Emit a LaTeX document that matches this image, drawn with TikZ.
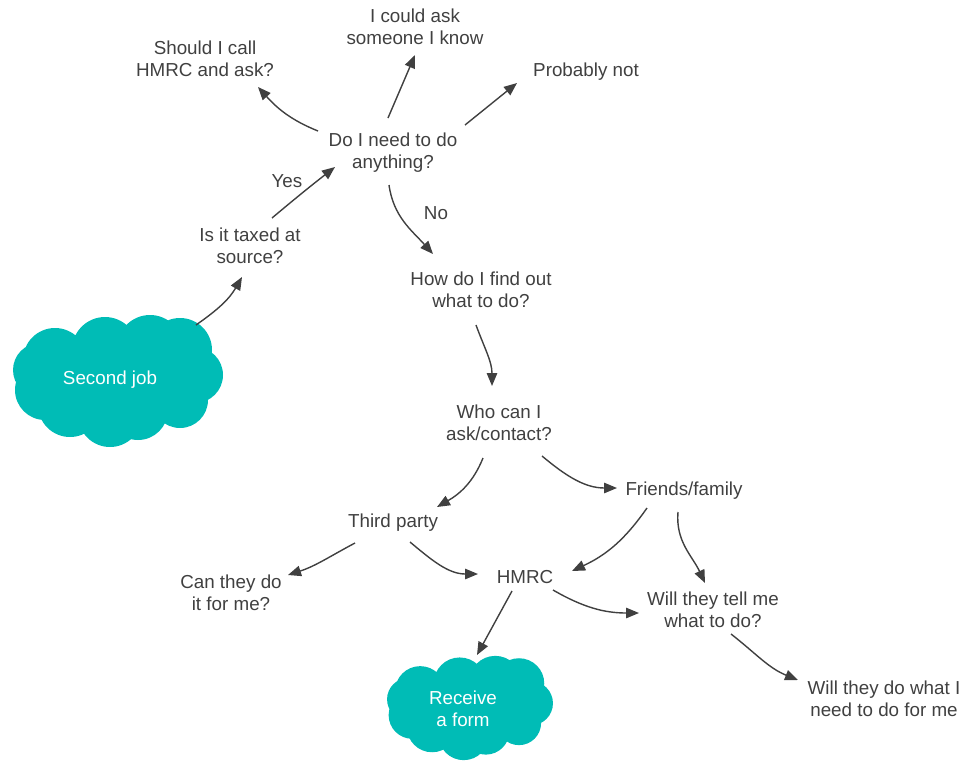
\documentclass[tikz,border=0pt]{standalone}
\usepackage{fontspec}
\setmainfont{Liberation Sans}
\usetikzlibrary{arrows.meta}
\definecolor{ink}{HTML}{404040}
\definecolor{teal}{HTML}{00BCB6}
\begin{document}
\begin{tikzpicture}[x=1pt,y=-1pt,
  txt/.style={font=\fontsize{18.8}{22}\selectfont, text=ink, align=center, inner sep=8pt},
  cloudtxt/.style={font=\fontsize{18.8}{22}\selectfont, text=white, align=center},
  arr/.style={draw=ink, line width=1.4pt, -{Triangle[length=13pt,width=10.5pt]}},
  cloudpic/.pic={
    \fill[teal] (-63,-21) circle[radius=32] (-13,-31) circle[radius=33]
      (32,-33) circle[radius=33] (62,-31) circle[radius=32]
      (77,-6) circle[radius=28] (62,19) circle[radius=28]
      (20,29) circle[radius=30] (-8,34) circle[radius=32]
      (-48,24) circle[radius=32] (-73,9) circle[radius=30]
      (-78,-11) circle[radius=27] (0,0) ellipse[x radius=78, y radius=45];
  }]
\useasboundingbox (0,0) rectangle (966,763);
% clouds
\pic at (118,381) {cloudpic};
\pic[scale=0.79] at (470,708) {cloudpic};
% nodes
\node[cloudtxt] (cloud1) at (110,380) {Second job};
\node[cloudtxt] (cloud2) at (463,709) {Receive\\a form};
\node[txt] (should) at (205,59) {Should I call\\HMRC and ask?};
\node[txt] (could) at (415,27) {I could ask\\someone I know};
\node[txt] (prob) at (586,72) {Probably not};
\node[txt] (doi) at (393,153) {Do I need to do\\anything?};
\node[txt,inner sep=0pt] (yes) at (287,181) {Yes};
\node[txt,inner sep=0pt] (no) at (436,213) {No};
\node[txt] (taxed) at (250,246) {Is it taxed at\\source?};
\node[txt] (howdo) at (481,290) {How do I find out\\what to do?};
\node[txt] (who) at (499,423) {Who can I\\ask/contact?};
\node[txt] (friends) at (684,491) {Friends/family};
\node[txt] (third) at (393,523) {Third party};
\node[txt] (canthey) at (231,593) {Can they do\\it for me?};
\node[txt] (hmrc) at (525,577) {HMRC};
\node[txt] (tell) at (713,610) {Will they tell me\\what to do?};
\node[txt] (willdo) at (884,699) {Will they do what I\\need to do for me};
% connectors
\draw[arr] ([shift={(86,-55)}]cloud1.center) to[out=35,in=240] ([shift={(-8,31)}]taxed.center);
\draw[arr] ([shift={(22,-28)}]taxed.center) to[out=40,in=218] ([shift={(-58,14)}]doi.center);
\draw[arr] ([shift={(-75,-22)}]doi.center) to[out=158,in=-48] ([shift={(53,28)}]should.center);
\draw[arr] ([shift={(-5,-35)}]doi.center) -- ([shift={(0,28)}]could.center);
\draw[arr] ([shift={(72,-28)}]doi.center) -- ([shift={(-69,11)}]prob.center);
\draw[arr] ([shift={(-4,32)}]doi.center) to[out=-82,in=132] ([shift={(-48,-36)}]howdo.center);
\draw[arr] ([shift={(-5,35)}]howdo.center) to[out=-70,in=90] ([shift={(-7,-37)}]who.center);
\draw[arr] ([shift={(-16,35)}]who.center) to[out=-112,in=30] ([shift={(44,-16)}]third.center);
\draw[arr] ([shift={(43,33)}]who.center) to[out=-40,in=180] ([shift={(-67,-3)}]friends.center);
\draw[arr] ([shift={(-37,17)}]friends.center) to[out=-125,in=25] ([shift={(47,-6)}]hmrc.center);
\draw[arr] ([shift={(-6,21)}]friends.center) to[out=-95,in=115] ([shift={(-8,-27)}]tell.center);
\draw[arr] ([shift={(-38,20)}]third.center) to[out=-152,in=18] ([shift={(57,-18)}]canthey.center);
\draw[arr] ([shift={(17,19)}]third.center) to[out=-40,in=180] ([shift={(-47,-3)}]hmrc.center);
\draw[arr] ([shift={(-13,14)}]hmrc.center) -- ([shift={(14,-54)}]cloud2.center);
\draw[arr] ([shift={(28,13)}]hmrc.center) to[out=-30,in=180] ([shift={(-74,3)}]tell.center);
\draw[arr] ([shift={(18,24)}]tell.center) to[out=-38,in=158] ([shift={(-86,-19)}]willdo.center);
\end{tikzpicture}
\end{document}
